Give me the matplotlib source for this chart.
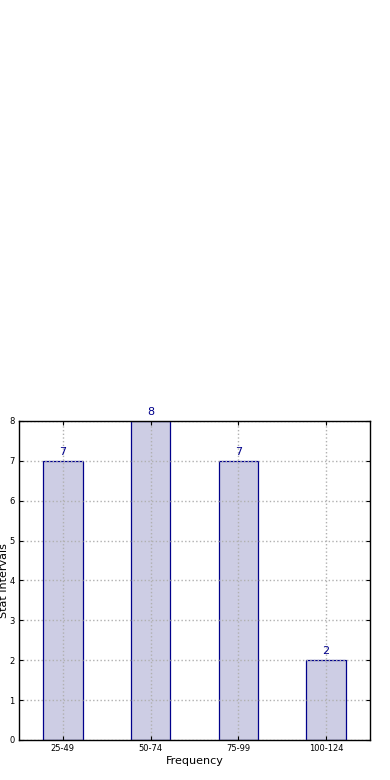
import matplotlib
matplotlib.use("Agg")
import matplotlib.pyplot as plt
import numpy as np

categories = ["25-49", "50-74", "75-99", "100-124"]
counts = [7, 8, 7, 2]

fig = plt.figure(figsize=(3.9, 7.8), dpi=100)
ax = fig.add_axes([0.0487, 0.0513, 0.9, 0.409])

x = np.arange(len(categories))
bars = ax.bar(x, counts, width=0.45, color="#cdcde4", edgecolor="#00008b", linewidth=0.9, zorder=2)

for xi, c in zip(x, counts):
    ax.text(xi, c + 0.1, str(c), ha="center", va="bottom", fontsize=8, color="#00008b")

ax.set_xlim(-0.5, 3.5)
ax.set_ylim(0, 8)
ax.set_xticks(x)
ax.set_xticklabels(categories, fontsize=6)
ax.set_yticks(range(0, 9))
ax.tick_params(axis="y", labelsize=6, direction="in", right=True, length=3, pad=3)
ax.tick_params(axis="x", direction="in", top=True, length=3, pad=3)
ax.grid(True, linestyle=":", color="#b0b0b0", linewidth=1, zorder=3)
ax.set_axisbelow(False)
for s in ax.spines.values():
    s.set_linewidth(1)
    s.set_zorder(5)
ax.set_xlabel("Frequency", fontsize=8, labelpad=2)
ax.set_ylabel("Stat Intervals", fontsize=8, labelpad=0)

fig.savefig("out.png", dpi=100)
